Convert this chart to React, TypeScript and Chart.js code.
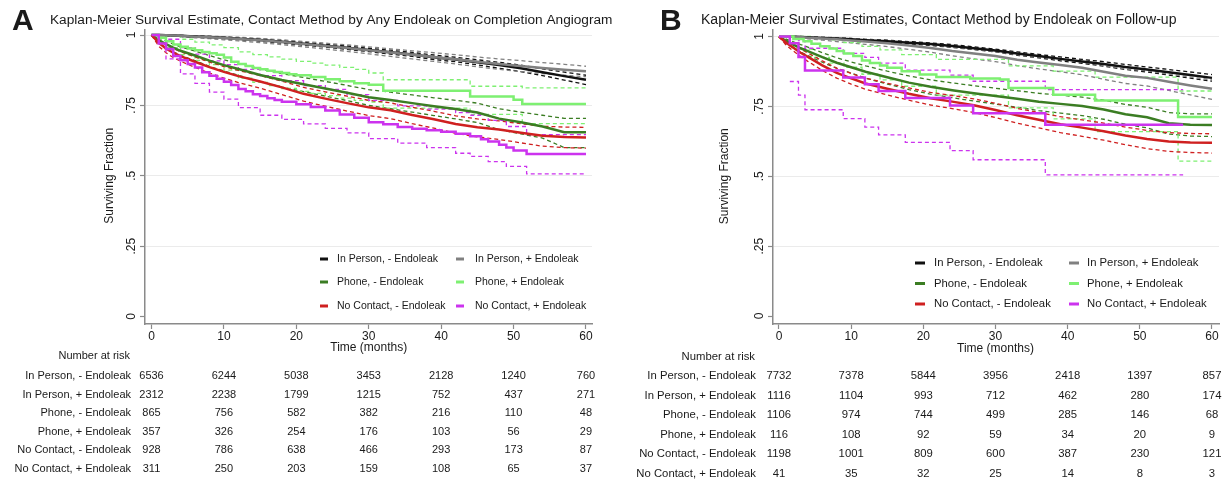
import React, { useEffect, useRef } from 'react';
import { Chart, registerables } from 'chart.js';

Chart.register(...registerables);

const FONT = '"Liberation Sans", Arial, Helvetica, sans-serif';
const TEXT = '#1a1a1a';
const AXIS = '#8a8a8a';
const GRID = '#ebebeb';

// ---------- shared labels ----------
const groupLabels = [
  'In Person, - Endoleak',
  'In Person, + Endoleak',
  'Phone, - Endoleak',
  'Phone, + Endoleak',
  'No Contact, - Endoleak',
  'No Contact, + Endoleak',
];
const groupColors = ['#111111', '#808080', '#3b7d23', '#7ef072', '#cf2020', '#cc33ee'];
const xTicks = [0, 10, 20, 30, 40, 50, 60];
const yTicks = [0, 0.25, 0.5, 0.75, 1];
const yTickLabels = ['0', '.25', '.5', '.75', '1'];
const xTitle = 'Time (months)';
const yTitle = 'Surviving Fraction';
const riskTitle = 'Number at risk';

const titleA = 'Kaplan-Meier Survival Estimate, Contact Method by Any Endoleak on Completion Angiogram';
const titleB = 'Kaplan-Meier Survival Estimates, Contact Method by Endoleak on Follow-up';

// ---------- time grid for the large groups ----------
const tGrid = [0, 1, 2, 3, 4, 6, 8, 10, 12, 15, 18, 21, 24, 27, 30, 33, 36, 39, 42, 45, 48, 51, 54, 57, 60];

// ---------- Panel A ----------
const aIPnEst = [1, 1, 0.999, 0.998, 0.997, 0.995, 0.993, 0.99, 0.987, 0.982, 0.976, 0.969, 0.962, 0.955, 0.947, 0.939, 0.931, 0.921, 0.913, 0.903, 0.893, 0.882, 0.868, 0.854, 0.841];
const aIPnHi = [1, 1, 1, 0.999, 0.999, 0.997, 0.995, 0.993, 0.99, 0.986, 0.98, 0.974, 0.967, 0.961, 0.953, 0.946, 0.938, 0.929, 0.921, 0.912, 0.903, 0.893, 0.88, 0.868, 0.857];
const aIPnLo = [1, 0.999, 0.998, 0.997, 0.995, 0.993, 0.99, 0.987, 0.984, 0.978, 0.971, 0.964, 0.957, 0.949, 0.941, 0.932, 0.924, 0.913, 0.905, 0.894, 0.882, 0.87, 0.856, 0.84, 0.824];

const aIPpEst = [1, 1, 0.999, 0.998, 0.997, 0.994, 0.992, 0.989, 0.986, 0.981, 0.975, 0.968, 0.961, 0.954, 0.946, 0.938, 0.93, 0.922, 0.914, 0.905, 0.897, 0.89, 0.883, 0.877, 0.871];
const aIPpHi = [1, 1, 1, 0.999, 0.999, 0.997, 0.996, 0.994, 0.992, 0.988, 0.983, 0.977, 0.971, 0.965, 0.958, 0.951, 0.944, 0.937, 0.93, 0.922, 0.915, 0.909, 0.902, 0.896, 0.889];
const aIPpLo = [1, 0.999, 0.997, 0.996, 0.994, 0.99, 0.987, 0.983, 0.979, 0.973, 0.966, 0.958, 0.95, 0.942, 0.933, 0.924, 0.915, 0.906, 0.897, 0.887, 0.878, 0.87, 0.863, 0.857, 0.852];

const aPHnEst = [1, 0.982, 0.968, 0.955, 0.944, 0.927, 0.909, 0.893, 0.879, 0.858, 0.84, 0.825, 0.81, 0.795, 0.779, 0.769, 0.758, 0.747, 0.737, 0.725, 0.703, 0.69, 0.675, 0.655, 0.655];
const aPHnHi = [1, 0.99, 0.979, 0.968, 0.958, 0.943, 0.927, 0.912, 0.899, 0.88, 0.863, 0.849, 0.835, 0.821, 0.806, 0.797, 0.787, 0.777, 0.768, 0.758, 0.738, 0.726, 0.715, 0.704, 0.704];
const aPHnLo = [1, 0.972, 0.955, 0.94, 0.928, 0.909, 0.889, 0.872, 0.857, 0.834, 0.815, 0.799, 0.783, 0.767, 0.75, 0.738, 0.726, 0.714, 0.702, 0.689, 0.664, 0.649, 0.634, 0.6, 0.6];

const aNCnEst = [1, 0.972, 0.952, 0.937, 0.925, 0.905, 0.886, 0.869, 0.854, 0.835, 0.814, 0.791, 0.774, 0.758, 0.743, 0.733, 0.716, 0.701, 0.684, 0.672, 0.664, 0.653, 0.642, 0.638, 0.636];
const aNCnHi = [1, 0.983, 0.966, 0.952, 0.941, 0.922, 0.904, 0.888, 0.874, 0.856, 0.836, 0.814, 0.798, 0.783, 0.768, 0.759, 0.743, 0.729, 0.713, 0.702, 0.695, 0.685, 0.676, 0.673, 0.672];
const aNCnLo = [1, 0.96, 0.937, 0.92, 0.907, 0.885, 0.865, 0.847, 0.831, 0.811, 0.788, 0.765, 0.747, 0.73, 0.714, 0.703, 0.685, 0.669, 0.651, 0.638, 0.629, 0.617, 0.605, 0.6, 0.598];

const aPHpT = [0, 1, 2, 3, 4, 5, 6, 7, 8, 9, 10, 11, 12, 13, 14, 15, 16, 17, 18, 19, 20, 22, 24, 26, 28, 30, 32, 44, 50, 51.2, 60];
const aPHpEst = [1, 0.99, 0.978, 0.966, 0.958, 0.952, 0.946, 0.94, 0.935, 0.93, 0.92, 0.905, 0.897, 0.89, 0.883, 0.878, 0.873, 0.869, 0.865, 0.861, 0.857, 0.851, 0.843, 0.836, 0.829, 0.823, 0.802, 0.782, 0.77, 0.755, 0.755];
const aPHpCiT = [0, 2, 4, 6, 8, 10, 12, 14, 16, 18, 20, 22, 24, 26, 28, 30, 32, 44, 51.2, 60];
const aPHpHi = [1, 0.995, 0.985, 0.975, 0.965, 0.955, 0.94, 0.93, 0.922, 0.914, 0.906, 0.9, 0.893, 0.885, 0.878, 0.865, 0.841, 0.818, 0.812, 0.812];
const aPHpLo = [1, 0.955, 0.93, 0.91, 0.895, 0.875, 0.847, 0.832, 0.82, 0.81, 0.8, 0.793, 0.785, 0.776, 0.768, 0.762, 0.74, 0.718, 0.685, 0.685];

const aNCpT = [0, 1, 2, 3, 4, 5, 6, 7, 8, 9, 10, 11, 12, 13, 14, 15, 16, 17, 18, 20, 22, 24, 26, 28, 30, 32, 34, 36, 38, 40, 42, 44, 45.5, 46.5, 48, 49, 50, 51.8, 60];
const aNCpEst = [1, 0.97, 0.95, 0.925, 0.91, 0.897, 0.885, 0.868, 0.855, 0.845, 0.834, 0.822, 0.808, 0.8, 0.79, 0.783, 0.775, 0.769, 0.763, 0.754, 0.744, 0.732, 0.718, 0.706, 0.69, 0.683, 0.673, 0.667, 0.662, 0.656, 0.649, 0.64, 0.63, 0.622, 0.61, 0.6, 0.59, 0.577, 0.577];
const aNCpCiT = [0, 2, 4, 6, 8, 10, 12, 15, 18, 21, 24, 27, 30, 34, 38, 42, 44, 46.5, 49, 51.8, 60];
const aNCpHi = [1, 0.985, 0.955, 0.932, 0.908, 0.895, 0.878, 0.856, 0.838, 0.82, 0.807, 0.788, 0.768, 0.748, 0.737, 0.724, 0.715, 0.697, 0.675, 0.646, 0.646];
const aNCpLo = [1, 0.915, 0.862, 0.828, 0.797, 0.772, 0.742, 0.715, 0.7, 0.684, 0.668, 0.652, 0.632, 0.616, 0.6, 0.58, 0.569, 0.55, 0.533, 0.507, 0.507];

const riskA = [
  [6536, 6244, 5038, 3453, 2128, 1240, 760],
  [2312, 2238, 1799, 1215, 752, 437, 271],
  [865, 756, 582, 382, 216, 110, 48],
  [357, 326, 254, 176, 103, 56, 29],
  [928, 786, 638, 466, 293, 173, 87],
  [311, 250, 203, 159, 108, 65, 37],
];

// ---------- Panel B ----------
const bIPnEst = [1, 1, 0.999, 0.998, 0.997, 0.995, 0.993, 0.99, 0.987, 0.983, 0.978, 0.973, 0.966, 0.958, 0.95, 0.939, 0.93, 0.92, 0.911, 0.902, 0.891, 0.882, 0.872, 0.862, 0.852];
const bIPnHi = [1, 1, 1, 0.999, 0.999, 0.997, 0.995, 0.993, 0.99, 0.987, 0.982, 0.977, 0.971, 0.963, 0.955, 0.945, 0.936, 0.927, 0.918, 0.91, 0.9, 0.891, 0.882, 0.873, 0.864];
const bIPnLo = [1, 0.999, 0.998, 0.997, 0.995, 0.993, 0.991, 0.987, 0.984, 0.979, 0.974, 0.968, 0.961, 0.953, 0.945, 0.933, 0.924, 0.913, 0.904, 0.894, 0.882, 0.873, 0.862, 0.851, 0.84];

const bIPpEst = [1, 1, 0.999, 0.998, 0.996, 0.993, 0.99, 0.986, 0.982, 0.976, 0.968, 0.959, 0.948, 0.939, 0.93, 0.917, 0.907, 0.898, 0.888, 0.874, 0.86, 0.852, 0.838, 0.825, 0.813];
const bIPpHi = [1, 1, 1, 1, 0.999, 0.998, 0.996, 0.993, 0.99, 0.985, 0.979, 0.971, 0.962, 0.954, 0.946, 0.935, 0.926, 0.918, 0.909, 0.897, 0.884, 0.877, 0.866, 0.855, 0.845];
const bIPpLo = [1, 0.999, 0.997, 0.995, 0.992, 0.987, 0.982, 0.977, 0.972, 0.964, 0.954, 0.944, 0.931, 0.92, 0.91, 0.896, 0.884, 0.874, 0.863, 0.847, 0.832, 0.823, 0.807, 0.791, 0.775];

const bPHnEst = [1, 0.984, 0.971, 0.958, 0.948, 0.926, 0.906, 0.89, 0.874, 0.854, 0.835, 0.82, 0.808, 0.797, 0.787, 0.777, 0.767, 0.759, 0.751, 0.739, 0.722, 0.711, 0.69, 0.684, 0.683];
const bPHnHi = [1, 0.991, 0.981, 0.971, 0.962, 0.942, 0.924, 0.909, 0.895, 0.876, 0.859, 0.845, 0.834, 0.824, 0.815, 0.806, 0.797, 0.79, 0.783, 0.772, 0.757, 0.747, 0.728, 0.723, 0.723];
const bPHnLo = [1, 0.975, 0.959, 0.944, 0.932, 0.908, 0.886, 0.869, 0.851, 0.83, 0.81, 0.794, 0.781, 0.769, 0.758, 0.747, 0.735, 0.726, 0.717, 0.704, 0.686, 0.673, 0.651, 0.644, 0.642];

const bNCnEst = [1, 0.978, 0.96, 0.942, 0.927, 0.897, 0.87, 0.85, 0.832, 0.813, 0.795, 0.779, 0.767, 0.754, 0.737, 0.718, 0.702, 0.686, 0.674, 0.661, 0.646, 0.633, 0.624, 0.621, 0.62];
const bNCnHi = [1, 0.986, 0.971, 0.955, 0.941, 0.913, 0.887, 0.868, 0.851, 0.833, 0.816, 0.8, 0.789, 0.777, 0.761, 0.743, 0.728, 0.713, 0.702, 0.69, 0.676, 0.664, 0.656, 0.653, 0.652];
const bNCnLo = [1, 0.969, 0.948, 0.928, 0.911, 0.879, 0.851, 0.83, 0.811, 0.791, 0.772, 0.755, 0.742, 0.728, 0.71, 0.69, 0.673, 0.656, 0.643, 0.629, 0.613, 0.599, 0.589, 0.585, 0.583];

const bPHpT = [0, 2, 3.4, 4.5, 5.7, 7, 8, 9, 10.3, 11.5, 12.6, 14, 15, 17, 19.5, 21.8, 26.5, 30.6, 31.8, 38, 43.8, 55.3, 60];
const bPHpEst = [1, 0.991, 0.983, 0.974, 0.965, 0.957, 0.948, 0.939, 0.93, 0.914, 0.905, 0.896, 0.888, 0.876, 0.864, 0.855, 0.85, 0.846, 0.816, 0.792, 0.771, 0.712, 0.712];
const bPHpCiT = [0, 2, 4.5, 7, 9, 11.5, 14, 17, 21.8, 31.8, 38, 43.8, 55.3, 60];
const bPHpHi = [1, 1, 0.995, 0.988, 0.978, 0.965, 0.952, 0.935, 0.918, 0.895, 0.876, 0.855, 0.805, 0.805];
const bPHpLo = [1, 0.955, 0.925, 0.905, 0.89, 0.865, 0.845, 0.822, 0.79, 0.745, 0.705, 0.66, 0.554, 0.554];

const bNCpT = [0, 1.5, 2.7, 3.6, 8.9, 11.9, 13.8, 17.5, 23.7, 26.9, 36.9, 56];
const bNCpEst = [1, 0.976, 0.927, 0.878, 0.853, 0.829, 0.805, 0.78, 0.753, 0.725, 0.684, 0.684];
const bNCpHi = [1, 0.997, 0.985, 0.958, 0.94, 0.925, 0.905, 0.88, 0.862, 0.84, 0.81, 0.81];
const bNCpLoT = [1.5, 2.7, 3.6, 8.9, 11.9, 13.8, 17.5, 23.7, 26.9, 36.9, 56];
const bNCpLo = [0.839, 0.79, 0.738, 0.706, 0.676, 0.648, 0.621, 0.592, 0.559, 0.505, 0.505];

const riskB = [
  [7732, 7378, 5844, 3956, 2418, 1397, 857],
  [1116, 1104, 993, 712, 462, 280, 174],
  [1106, 974, 744, 499, 285, 146, 68],
  [116, 108, 92, 59, 34, 20, 9],
  [1198, 1001, 809, 600, 387, 230, 121],
  [41, 35, 32, 25, 14, 8, 3],
];

// ---------- types & config ----------
type Curve = {
  t: number[];
  est: number[];
  hiT: number[];
  hi: number[];
  loT: number[];
  lo: number[];
  stepped: boolean;
};

type PanelCfg = {
  letter: string;
  letterX: number;
  title: string;
  titleX: number;
  titleW: number;
  xMin: number;
  xMax: number;
  yMin: number;
  yMax: number;
  padLeft: number;
  padRight: number;
  yLabelX: number;
  yTitleX: number;
  xTitleY: number;
  axisFont: number;
  legRows: number[];
  legMarkX: number[];
  legMarkW: number;
  legTextX: number[];
  legFont: number;
  tableRight: number;
  nrY: number;
  rowY: number[];
  tableFont: number;
  risk: number[][];
  curves: Curve[];
};

const curvesA: Curve[] = [
  { t: tGrid, est: aIPnEst, hiT: tGrid, hi: aIPnHi, loT: tGrid, lo: aIPnLo, stepped: false },
  { t: tGrid, est: aIPpEst, hiT: tGrid, hi: aIPpHi, loT: tGrid, lo: aIPpLo, stepped: false },
  { t: tGrid, est: aPHnEst, hiT: tGrid, hi: aPHnHi, loT: tGrid, lo: aPHnLo, stepped: false },
  { t: aPHpT, est: aPHpEst, hiT: aPHpCiT, hi: aPHpHi, loT: aPHpCiT, lo: aPHpLo, stepped: true },
  { t: tGrid, est: aNCnEst, hiT: tGrid, hi: aNCnHi, loT: tGrid, lo: aNCnLo, stepped: false },
  { t: aNCpT, est: aNCpEst, hiT: aNCpCiT, hi: aNCpHi, loT: aNCpCiT, lo: aNCpLo, stepped: true },
];

const curvesB: Curve[] = [
  { t: tGrid, est: bIPnEst, hiT: tGrid, hi: bIPnHi, loT: tGrid, lo: bIPnLo, stepped: false },
  { t: tGrid, est: bIPpEst, hiT: tGrid, hi: bIPpHi, loT: tGrid, lo: bIPpLo, stepped: false },
  { t: tGrid, est: bPHnEst, hiT: tGrid, hi: bPHnHi, loT: tGrid, lo: bPHnLo, stepped: false },
  { t: bPHpT, est: bPHpEst, hiT: bPHpCiT, hi: bPHpHi, loT: bPHpCiT, lo: bPHpLo, stepped: true },
  { t: tGrid, est: bNCnEst, hiT: tGrid, hi: bNCnHi, loT: tGrid, lo: bNCnLo, stepped: false },
  { t: bNCpT, est: bNCpEst, hiT: bNCpT, hi: bNCpHi, loT: bNCpLoT, lo: bNCpLo, stepped: true },
];

const cfgA: PanelCfg = {
  letter: 'A', letterX: 12, title: titleA, titleX: 50, titleW: 563,
  xMin: -0.898, xMax: 60.83, yMin: -0.0266, yMax: 1.0178,
  padLeft: 115, padRight: 24,
  yLabelX: 132, yTitleX: 110, xTitleY: 348, axisFont: 12,
  legRows: [259, 282, 306], legMarkX: [320, 456], legMarkW: 8, legTextX: [337, 475], legFont: 10.5,
  tableRight: 131, nrY: 356, rowY: [376, 394.6, 413.2, 431.8, 450.4, 469], tableFont: 11,
  risk: riskA, curves: curvesA,
};

const cfgB: PanelCfg = {
  letter: 'B', letterX: 44, title: titleB, titleX: 85, titleW: 476,
  xMin: -0.831, xMax: 60.97, yMin: -0.0286, yMax: 1.0233,
  padLeft: 127, padRight: 13,
  yLabelX: 144, yTitleX: 109, xTitleY: 349, axisFont: 12,
  legRows: [263, 283.5, 304], legMarkX: [299, 453], legMarkW: 10, legTextX: [318, 471], legFont: 11.3,
  tableRight: 140, nrY: 357, rowY: [376, 395.5, 415, 434.5, 454, 473.5], tableFont: 11.3,
  risk: riskB, curves: curvesB,
};

const W = 616;
const H = 483;
const AREA_TOP = 30;
const AREA_BOTTOM = 324;
const X_AXIS_H = 40;
const Y_AXIS_W = 30;

function pts(t: number[], v: number[]) {
  return t.map((x, i) => ({ x, y: v[i] }));
}

function makeOverlay(cfg: PanelCfg) {
  return {
    id: 'overlay' + cfg.letter,
    afterDraw(chart: any) {
      const ctx = chart.ctx as CanvasRenderingContext2D;
      const xs = chart.scales.x;
      const ys = chart.scales.y;
      ctx.save();
      ctx.fillStyle = TEXT;
      ctx.textBaseline = 'middle';
      ctx.textAlign = 'left';
      // panel letter
      ctx.font = `bold 30px ${FONT}`;
      ctx.fillText(cfg.letter, cfg.letterX, 22);
      // title fitted to width
      ctx.font = `13px ${FONT}`;
      const tw = ctx.measureText(cfg.title).width;
      ctx.font = `${((13 * cfg.titleW) / tw).toFixed(2)}px ${FONT}`;
      ctx.fillText(cfg.title, cfg.titleX, 20);
      // y tick labels (rotated)
      ctx.font = `${cfg.axisFont}px ${FONT}`;
      ctx.textAlign = 'center';
      yTicks.forEach((v, i) => {
        ctx.save();
        ctx.translate(cfg.yLabelX, ys.getPixelForValue(v));
        ctx.rotate(-Math.PI / 2);
        ctx.fillText(yTickLabels[i], 0, 0);
        ctx.restore();
      });
      // y title
      ctx.save();
      ctx.translate(cfg.yTitleX, (ys.getPixelForValue(0) + ys.getPixelForValue(1)) / 2);
      ctx.rotate(-Math.PI / 2);
      ctx.fillText(yTitle, 0, 0);
      ctx.restore();
      // x title
      ctx.fillText(xTitle, xs.getPixelForValue(30), cfg.xTitleY);
      // legend
      ctx.font = `${cfg.legFont}px ${FONT}`;
      ctx.textAlign = 'left';
      groupLabels.forEach((lab, i) => {
        const row = Math.floor(i / 2);
        const col = i % 2;
        const y = cfg.legRows[row];
        ctx.strokeStyle = groupColors[i];
        ctx.lineWidth = 3;
        ctx.setLineDash([]);
        ctx.beginPath();
        ctx.moveTo(cfg.legMarkX[col], y);
        ctx.lineTo(cfg.legMarkX[col] + cfg.legMarkW, y);
        ctx.stroke();
        ctx.fillStyle = TEXT;
        ctx.fillText(lab, cfg.legTextX[col], y);
      });
      // number at risk table
      ctx.font = `${cfg.tableFont}px ${FONT}`;
      ctx.textAlign = 'right';
      ctx.fillText(riskTitle, cfg.tableRight - 1, cfg.nrY);
      cfg.risk.forEach((row, r) => {
        ctx.textAlign = 'right';
        ctx.fillText(groupLabels[r], cfg.tableRight, cfg.rowY[r]);
        ctx.textAlign = 'center';
        row.forEach((n, j) => {
          ctx.fillText(String(n), xs.getPixelForValue(xTicks[j]), cfg.rowY[r]);
        });
      });
      ctx.restore();
    },
  };
}

function Panel({ cfg, left }: { cfg: PanelCfg; left: number }) {
  const ref = useRef<HTMLCanvasElement>(null);
  useEffect(() => {
    const canvas = ref.current;
    if (!canvas) return;
    const order = [5, 4, 3, 2, 1, 0];
    const estSets = order.map((g) => ({
      data: pts(cfg.curves[g].t, cfg.curves[g].est),
      borderColor: groupColors[g],
      borderWidth: 2.5,
      stepped: cfg.curves[g].stepped,
      pointRadius: 0,
      fill: false,
    }));
    const ciSets: any[] = [];
    order.forEach((g) => {
      const c = cfg.curves[g];
      [pts(c.hiT, c.hi), pts(c.loT, c.lo)].forEach((d) => {
        ciSets.push({
          data: d,
          borderColor: groupColors[g],
          borderWidth: 1.3,
          borderDash: [4, 3],
          stepped: c.stepped,
          pointRadius: 0,
          fill: false,
        });
      });
    });
    const chart = new Chart(canvas, {
      type: 'line',
      data: { datasets: [...estSets, ...ciSets] as any },
      options: {
        animation: false,
        responsive: false,
        devicePixelRatio: 1,
        events: [],
        layout: {
          padding: {
            left: cfg.padLeft,
            right: cfg.padRight,
            top: AREA_TOP,
            bottom: H - AREA_BOTTOM - X_AXIS_H,
          },
        },
        elements: { line: { tension: 0 }, point: { radius: 0 } },
        plugins: {
          legend: { display: false },
          tooltip: { enabled: false },
          title: { display: false },
        },
        scales: {
          x: {
            type: 'linear',
            min: cfg.xMin,
            max: cfg.xMax,
            afterBuildTicks: (s: any) => {
              s.ticks = xTicks.map((v) => ({ value: v }));
            },
            afterFit: (s: any) => {
              s.height = X_AXIS_H;
            },
            grid: {
              drawOnChartArea: false,
              drawTicks: true,
              tickLength: 5,
              tickColor: AXIS,
              tickWidth: 1.2,
            },
            border: { display: true, color: AXIS, width: 1.5 },
            ticks: {
              autoSkip: false,
              maxRotation: 0,
              minRotation: 0,
              padding: 0,
              color: TEXT,
              font: { family: FONT, size: cfg.axisFont },
            },
          },
          y: {
            type: 'linear',
            min: cfg.yMin,
            max: cfg.yMax,
            afterBuildTicks: (s: any) => {
              s.ticks = yTicks.map((v) => ({ value: v }));
            },
            afterFit: (s: any) => {
              s.width = Y_AXIS_W;
            },
            grid: {
              color: (c: any) => (c.tick && c.tick.value === 0 ? 'rgba(0,0,0,0)' : GRID),
              lineWidth: 1,
              drawTicks: true,
              tickLength: 5,
              tickColor: AXIS,
              tickWidth: 1.2,
            },
            border: { display: true, color: AXIS, width: 1.5 },
            ticks: { display: false },
          },
        },
      } as any,
      plugins: [makeOverlay(cfg)],
    });
    return () => chart.destroy();
  }, [cfg]);
  return (
    <canvas
      ref={ref}
      width={W}
      height={H}
      style={{ position: 'absolute', left, top: 0, width: W, height: H }}
    />
  );
}

export default function App() {
  return (
    <div
      style={{
        position: 'absolute',
        left: 0,
        top: 0,
        width: 1232,
        height: 483,
        background: '#ffffff',
        overflow: 'hidden',
      }}
    >
      <Panel cfg={cfgA} left={0} />
      <Panel cfg={cfgB} left={616} />
    </div>
  );
}
